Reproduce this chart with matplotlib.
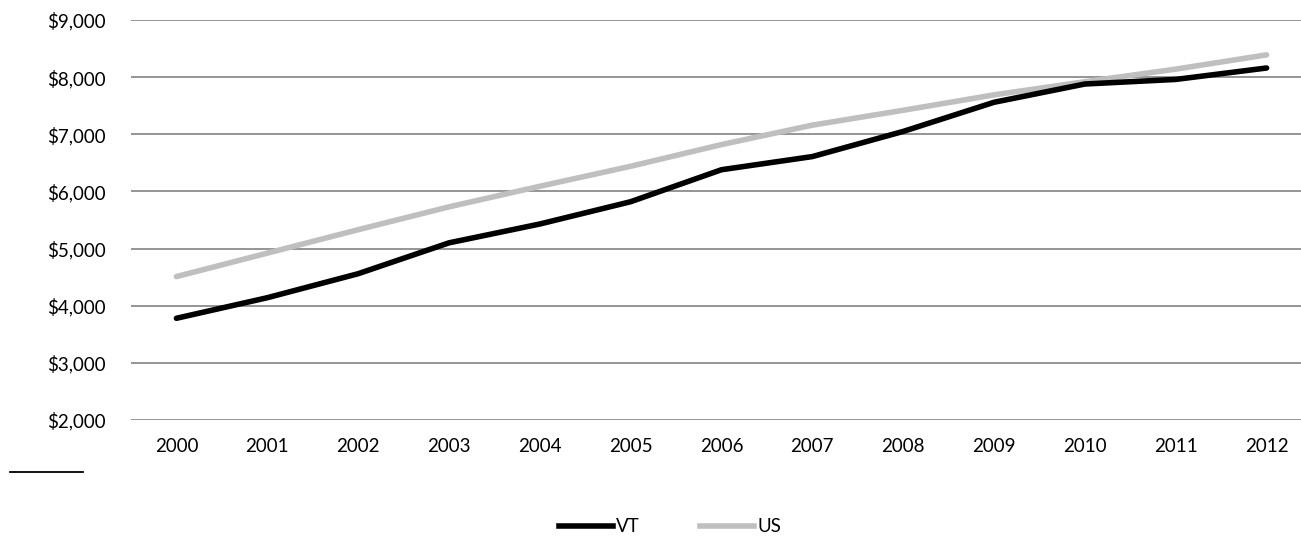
import matplotlib.pyplot as plt
from matplotlib.ticker import FuncFormatter
from matplotlib.lines import Line2D

plt.rcParams['font.family'] = ['Lato', 'DejaVu Sans']

years = [2000, 2001, 2002, 2003, 2004, 2005, 2006, 2007, 2008, 2009, 2010, 2011, 2012]
vt = [3780, 4140, 4560, 5100, 5430, 5820, 6380, 6610, 7050, 7560, 7880, 7960, 8160]
us = [4510, 4920, 5330, 5730, 6090, 6440, 6820, 7160, 7420, 7690, 7920, 8140, 8390]

W, H = 1301, 555
fig = plt.figure(figsize=(W / 100, H / 100), dpi=100)
ax = fig.add_axes([131 / W, 1 - 420 / H, (1312 - 131) / W, 400 / H])

x = list(range(len(years)))
ax.plot(x, vt, color='black', lw=4, solid_capstyle='round', zorder=3)
ax.plot(x, us, color='#bfbfbf', lw=4, solid_capstyle='round', zorder=2)

ax.set_xlim(-0.5, 12.5)
ax.set_ylim(2000, 9000)
ax.set_yticks(range(2000, 9001, 1000))
ax.yaxis.set_major_formatter(FuncFormatter(lambda v, p: '${:,.0f}'.format(v)))
ax.set_xticks(x)
ax.set_xticklabels([str(y) for y in years])
ax.grid(axis='y', color='#8c8c8c', lw=1.3)
ax.set_axisbelow(True)
for s in ax.spines.values():
    s.set_visible(False)
ax.tick_params(length=0, labelsize=13.5, colors='black')
ax.tick_params(axis='y', pad=18)
ax.tick_params(axis='x', pad=13)

# short rule under the plot
fig.add_artist(Line2D([10 / W, 83 / W], [1 - 472 / H] * 2, color='black', lw=1.3))

handles = [Line2D([], [], color='black', lw=4), Line2D([], [], color='#bfbfbf', lw=4)]
fig.legend(handles, ['VT', 'US'], loc='center', bbox_to_anchor=(670 / W, 1 - 527 / H),
           ncol=2, frameon=False, fontsize=13.5, handlelength=2.9, handletextpad=0.15,
           columnspacing=3.2)

fig.savefig('out.png', dpi=100)
